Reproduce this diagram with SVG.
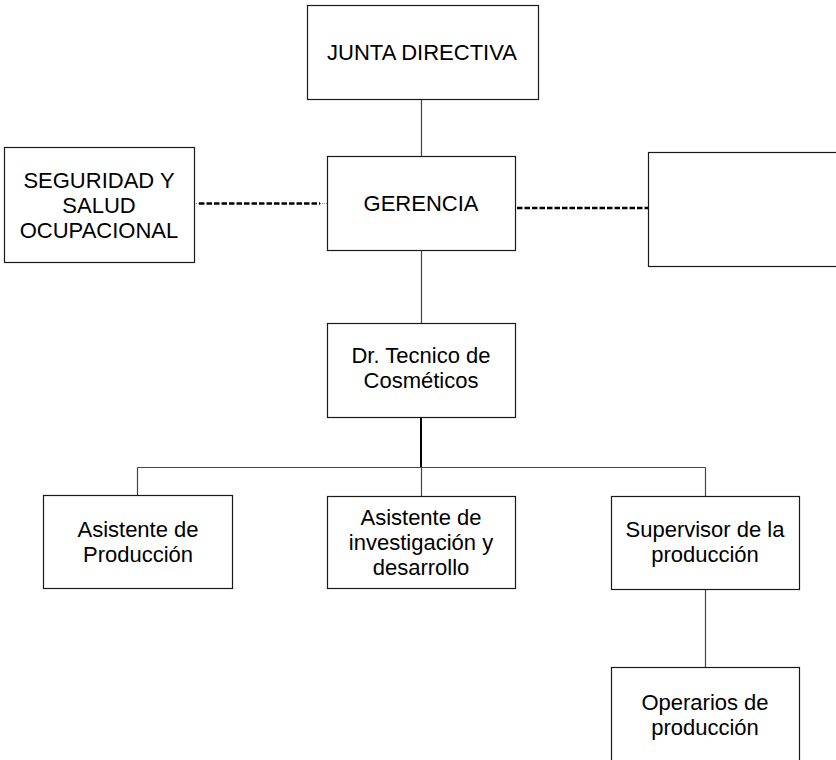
<svg xmlns="http://www.w3.org/2000/svg" width="836" height="760" viewBox="0 0 836 760">
<style>
.box{fill:#fff;stroke:#1a1a1a;stroke-width:1.2}
.t{font-family:"Liberation Sans",Arial,sans-serif;font-size:22px;fill:#000;text-anchor:middle}
.c{stroke:#444;stroke-width:1.2;fill:none}
.thick{stroke:#000;stroke-width:2;fill:none}
.dash{stroke:#000;stroke-width:2.6;stroke-dasharray:5.5 2;fill:none}
.dot{stroke:#888;stroke-width:1;stroke-dasharray:1 1;fill:none}
</style>
<rect width="836" height="760" fill="#fff"/>
<g id="connectors">
<line class="c" x1="421.5" y1="99" x2="421.5" y2="156"/>
<line class="c" x1="421.5" y1="250" x2="421.5" y2="323"/>
<line class="thick" x1="421" y1="417" x2="421" y2="468"/>
<line class="c" x1="137.5" y1="467.5" x2="705.5" y2="467.5"/>
<line class="c" x1="137.5" y1="467.5" x2="137.5" y2="495"/>
<line class="c" x1="421.5" y1="467.5" x2="421.5" y2="496"/>
<line class="c" x1="705.5" y1="467.5" x2="705.5" y2="496"/>
<line class="c" x1="705.5" y1="589" x2="705.5" y2="667"/>
<line class="dash" x1="199" y1="203.5" x2="320" y2="203.5"/>
<line class="dot" x1="320" y1="203.5" x2="327" y2="203.5"/>
<line class="dot" x1="194" y1="203.5" x2="199" y2="203.5"/>
<line class="dash" x1="517" y1="208" x2="648" y2="208"/>
</g>
<g id="junta">
<rect class="box" x="307.5" y="5.5" width="231" height="94"/>
<text class="t" x="422" y="59.5">JUNTA DIRECTIVA</text>
</g>
<g id="gerencia">
<rect class="box" x="327.5" y="156.5" width="188" height="94"/>
<text class="t" x="421" y="210.5">GERENCIA</text>
</g>
<g id="seguridad">
<rect class="box" x="4.5" y="147.5" width="190" height="115"/>
<text class="t" x="99" y="188">SEGURIDAD Y</text>
<text class="t" x="99" y="213">SALUD</text>
<text class="t" x="99" y="238">OCUPACIONAL</text>
</g>
<g id="vacio">
<rect class="box" x="648.5" y="152.5" width="200" height="114"/>
</g>
<g id="drtecnico">
<rect class="box" x="327.5" y="323.5" width="188" height="94"/>
<text class="t" x="421" y="363">Dr. Tecnico de</text>
<text class="t" x="421" y="388">Cosméticos</text>
</g>
<g id="asistprod">
<rect class="box" x="43.5" y="495.5" width="189" height="93"/>
<text class="t" x="138" y="537">Asistente de</text>
<text class="t" x="138" y="562">Producción</text>
</g>
<g id="asistinv">
<rect class="box" x="327.5" y="496.5" width="188" height="92"/>
<text class="t" x="421" y="525">Asistente de</text>
<text class="t" x="421" y="550">investigación y</text>
<text class="t" x="421" y="575">desarrollo</text>
</g>
<g id="supervisor">
<rect class="box" x="611.5" y="496.5" width="188" height="93"/>
<text class="t" x="705" y="537">Supervisor de la</text>
<text class="t" x="705" y="562">producción</text>
</g>
<g id="operarios">
<rect class="box" x="611.5" y="667.5" width="188" height="100"/>
<text class="t" x="705" y="710">Operarios de</text>
<text class="t" x="705" y="735">producción</text>
</g>
</svg>
